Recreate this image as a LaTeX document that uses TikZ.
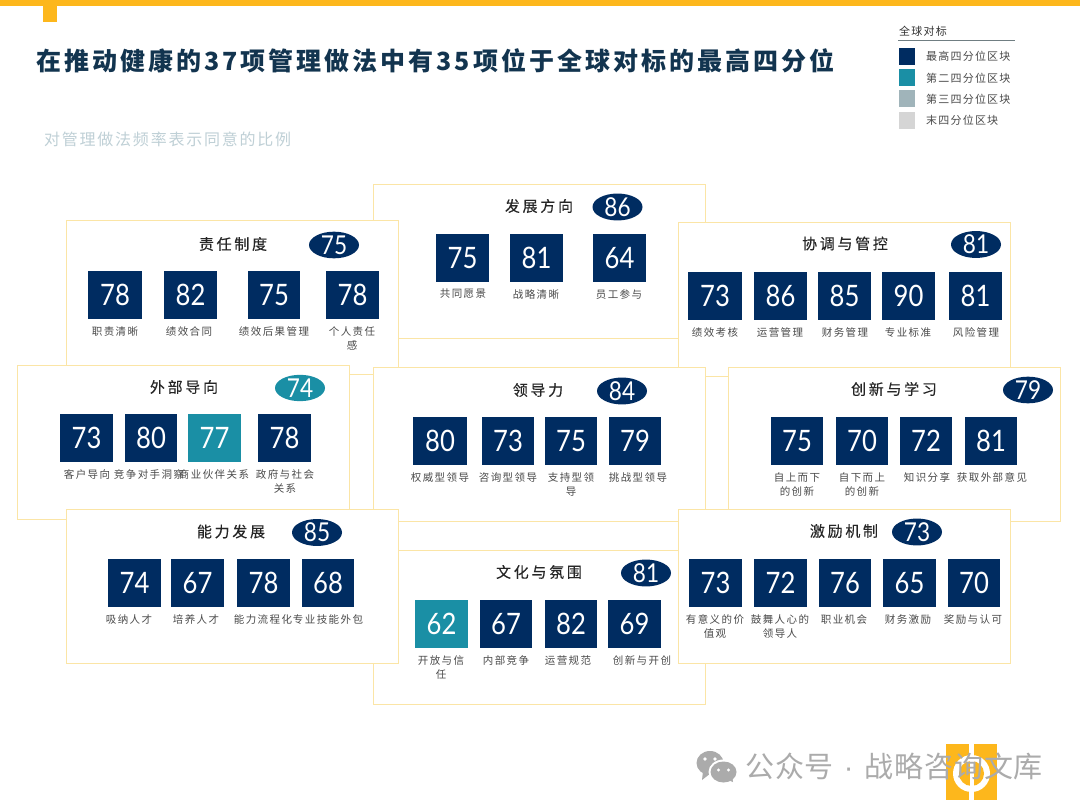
\documentclass[tikz,border=0pt]{standalone}
\usepackage{fontspec}
\setmainfont{Liberation Sans}
\newfontfamily\cjkt[LetterSpace=12]{Noto Sans CJK SC}
\newfontfamily\cjkh[LetterSpace=18,FakeBold=0.25]{Noto Sans CJK SC}
\newfontfamily\cjkl[LetterSpace=14]{Noto Sans CJK SC}
\newfontfamily\cjks[LetterSpace=11]{Noto Sans CJK SC}
\newfontfamily\cjkw[LetterSpace=3]{Noto Sans CJK SC}
\newfontfamily\numf[FakeStretch=0.87]{Lato}
\definecolor{navy}{HTML}{002C61}
\definecolor{teal}{HTML}{1A8FA5}
\definecolor{greyblue}{HTML}{A0B4BA}
\definecolor{lightg}{HTML}{D5D5D5}
\definecolor{gold}{HTML}{FDB71C}
\definecolor{edge}{HTML}{FBE5A6}
\definecolor{titlec}{HTML}{12344F}
\definecolor{subc}{HTML}{BFD0D6}
\definecolor{labc}{HTML}{4A4A4A}
\definecolor{markc}{HTML}{ABABAB}
\tikzset{
  panelbox/.style={draw=edge,fill=white,line width=0.9pt},
  cellbox/.style={inner sep=0pt,outer sep=0pt,minimum height=48pt,text=white,font=\numf\fontsize{29.5}{29.5}\selectfont},
  celllab/.style={anchor=north,inner sep=0pt,align=center,text=labc,font=\cjkl\fontsize{10.5}{14.5}\selectfont},
  headtext/.style={inner sep=0pt,text=black!85,font=\cjkh\fontsize{15}{18}\selectfont},
  scorebox/.style={ellipse,inner sep=0pt,minimum width=50pt,minimum height=26pt,text=white,font=\numf\fontsize{26}{26}\selectfont},
  legtext/.style={anchor=west,inner sep=0pt,text=labc,font=\cjks\fontsize{11}{13}\selectfont},
  swatch/.style={inner sep=0pt,minimum width=16pt,minimum height=17pt},
}
\usetikzlibrary{shapes.geometric}
% name, x1, x2, y-top, value, colour, label x, label
\newcommand{\cellitem}[8]{%
  \node[cellbox,fill=#6,minimum width={(#3-#2)*1pt}] (#1) at ({(#2+#3)/2},{#4+24}) {#5};
  \node[celllab] (#1l) at (#7,{#4+48+7}) {#8};
}
% name, x1, y1, title, title x, title y, score, score colour, score x
\newcommand{\panelitem}[9]{%
  \draw[panelbox] (#2,#3) rectangle ({#2+332},{#3+154.5});
  \node[headtext] (#1t) at (#5,#6) {#4};
  \node[scorebox,fill=#8] (#1s) at (#9,{#6+1}) {#7};
}
\begin{document}
\begin{tikzpicture}[x=1pt,y=-1pt]
\useasboundingbox (0,0) rectangle (1080,810);
\fill[white] (0,0) rectangle (1080,810);
% top bar
\fill[gold] (0,0) rectangle (1080,6);
\fill[gold] (43,6) rectangle (57,22);
% title
\node[anchor=west,inner sep=0pt,text=titlec,font=\cjkt\bfseries\fontsize{25}{28}\selectfont] (title) at (36,61) {在推动健康的37项管理做法中有35项位于全球对标的最高四分位};
\node[anchor=west,inner sep=0pt,text=subc,font=\cjkw\fontsize{16}{18}\selectfont\addfontfeature{LetterSpace=11}] (subt) at (44,139) {对管理做法频率表示同意的比例};
% legend
\node[anchor=west,inner sep=0pt,text=black!80,font=\cjks\fontsize{11}{13}\selectfont] (legh) at (899,31) {全球对标};
\coordinate (lega) at (898,40.5);
\coordinate (legb) at (1015,40.5);
\draw[color=greyblue!70!black,line width=1.4pt] (lega) -- (legb);
\node[swatch,fill=navy] (s1) at (907,56.5) {};
\node[swatch,fill=teal] (s2) at (907,78) {};
\node[swatch,fill=greyblue] (s3) at (907,99) {};
\node[swatch,fill=lightg] (s4) at (907,120.5) {};
\node[legtext] (t1) at (926,56) {最高四分位区块};
\node[legtext] (t2) at (926,78) {第二四分位区块};
\node[legtext] (t3) at (926,99) {第三四分位区块};
\node[legtext] (t4) at (926,120) {末四分位区块};
% 发展方向
\panelitem{a}{373}{184}{发展方向}{539}{206}{86}{navy}{617.5}
\cellitem{a1}{436}{489}{234}{75}{navy}{463}{共同愿景}
\cellitem{a2}{510}{563}{234}{81}{navy}{536}{战略清晰}
\cellitem{a3}{593}{646}{234}{64}{navy}{619}{员工参与}
% 责任制度
\panelitem{b}{66}{220}{责任制度}{233}{244}{75}{navy}{334}
\cellitem{b1}{88}{142}{271}{78}{navy}{115}{职责清晰}
\cellitem{b2}{164}{217}{271}{82}{navy}{189}{绩效合同}
\cellitem{b3}{248}{300}{271}{75}{navy}{274}{绩效后果管理}
\cellitem{b4}{326}{379}{271}{78}{navy}{352}{个人责任\\感}
% 协调与管控
\panelitem{c}{678}{222}{协调与管控}{845}{243.5}{81}{navy}{976}
\cellitem{c1}{688}{742}{272}{73}{navy}{715}{绩效考核}
\cellitem{c2}{754}{807}{272}{86}{navy}{780}{运营管理}
\cellitem{c3}{818}{871}{272}{85}{navy}{845}{财务管理}
\cellitem{c4}{882}{935}{272}{90}{navy}{908}{专业标准}
\cellitem{c5}{949}{1002}{272}{81}{navy}{976}{风险管理}
% 外部导向
\panelitem{d}{17}{365}{外部导向}{184}{387}{74}{teal}{300}
\cellitem{d1}{60}{113}{414}{73}{navy}{87}{客户导向}
\cellitem{d2}{125}{177}{414}{80}{navy}{149}{竞争对手洞察}
\cellitem{d3}{188}{241}{414}{77}{teal}{214}{商业伙伴关系}
\cellitem{d4}{258}{311}{414}{78}{navy}{285}{政府与社会\\关系}
% 领导力
\panelitem{e}{373}{367}{领导力}{538}{390}{84}{navy}{622}
\cellitem{e1}{413}{467}{417}{80}{navy}{440}{权威型领导}
\cellitem{e2}{482}{534}{417}{73}{navy}{508}{咨询型领导}
\cellitem{e3}{545}{597}{417}{75}{navy}{571}{支持型领\\导}
\cellitem{e4}{609}{661}{417}{79}{navy}{638}{挑战型领导}
% 创新与学习
\panelitem{f}{728.5}{367}{创新与学习}{894}{389}{79}{navy}{1028}
\cellitem{f1}{771}{823}{417}{75}{navy}{797}{自上而下\\的创新}
\cellitem{f2}{836}{888}{417}{70}{navy}{862}{自下而上\\的创新}
\cellitem{f3}{900}{952}{417}{72}{navy}{927}{知识分享}
\cellitem{f4}{965}{1017}{417}{81}{navy}{992}{获取外部意见}
% 文化与氛围
\panelitem{g}{373}{550}{文化与氛围}{539}{572}{81}{navy}{646}
\cellitem{g1}{415}{468}{600}{62}{teal}{441}{开放与信\\任}
\cellitem{g2}{480}{532}{600}{67}{navy}{506}{内部竞争}
\cellitem{g3}{545}{597}{600}{82}{navy}{568}{运营规范}
\cellitem{g4}{608}{661}{600}{69}{navy}{642}{创新与开创}
% 能力发展
\panelitem{h}{66}{509}{能力发展}{231}{531.5}{85}{navy}{317}
\cellitem{h1}{108}{161}{559}{74}{navy}{129}{吸纳人才}
\cellitem{h2}{171}{224}{559}{67}{navy}{196}{培养人才}
\cellitem{h3}{237}{290}{559}{78}{navy}{263}{能力流程化}
\cellitem{h4}{302}{354}{559}{68}{navy}{328}{专业技能外包}
% 激励机制
\panelitem{i}{678}{509}{激励机制}{844}{531}{73}{navy}{917}
\cellitem{i1}{689}{742}{559}{73}{navy}{715}{有意义的价\\值观}
\cellitem{i2}{754}{807}{559}{72}{navy}{780}{鼓舞人心的\\领导人}
\cellitem{i3}{819}{871}{559}{76}{navy}{844}{职业机会}
\cellitem{i4}{883}{936}{559}{65}{navy}{908}{财务激励}
\cellitem{i5}{948}{1000}{559}{70}{navy}{973}{奖励与认可}
% logo
\fill[gold] (946,744) rectangle (968.5,800);
\fill[gold] (974,744) rectangle (997,800);
\fill[white] (971.5,773.5) circle (18.5);
\fill[gold] (971.5,773.5) circle (12.5);
\fill[white] (969.5,760) rectangle (973.5,787);
% watermark icon
\fill[markc] (710,763) ellipse (13.5 and 12);
\fill[markc] (703,771) -- (702,780) -- (711,773) -- cycle;
\fill[white] (723.5,772) ellipse (15 and 12.5);
\fill[markc] (723.5,772) ellipse (13 and 10.5);
\fill[markc] (728,780) -- (733,782) -- (732,776) -- cycle;
\fill[white] (705,759) circle (1.8);
\fill[white] (715,759) circle (1.8);
\fill[white] (718.5,770) circle (1.6);
\fill[white] (728.5,770) circle (1.6);
\node[anchor=west,inner sep=0pt,text=markc,font=\cjkw\fontsize{29}{32}\selectfont] (wm) at (745,767) {公众号\hspace{10pt}{\rmfamily ·}\hspace{11pt}战略咨询文库};
\end{tikzpicture}
\end{document}
